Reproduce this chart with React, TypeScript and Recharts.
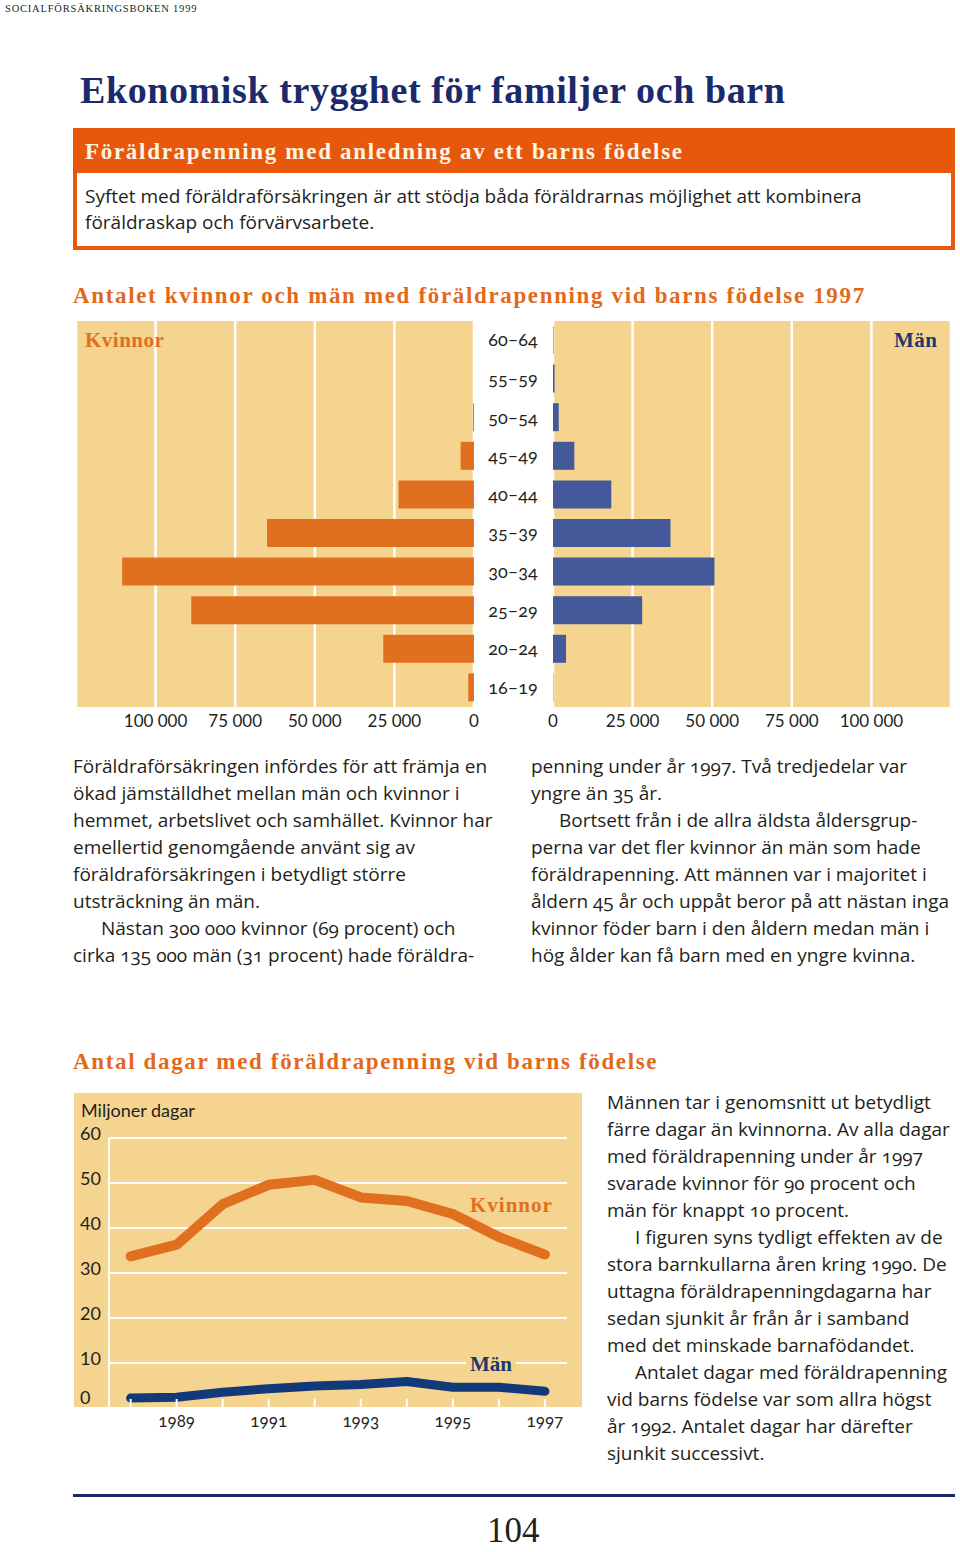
import { BarChart, Bar, XAxis, YAxis, CartesianGrid, LineChart, Line } from 'recharts'

// Antal kvinnor och män med föräldrapenning vid barns födelse 1997
const ageGroups = ['60–64', '55–59', '50–54', '45–49', '40–44', '35–39', '30–34', '25–29', '20–24', '16–19']
const womenByAge = [0, 0, 300, 4200, 23700, 65000, 110500, 88800, 28500, 1800]
const menByAge = [150, 500, 1800, 6700, 18300, 36900, 50700, 28000, 4100, 100]
const amountTicks = [0, 25000, 50000, 75000, 100000]

// Miljoner dagar med föräldrapenning
const years = [1988, 1989, 1990, 1991, 1992, 1993, 1994, 1995, 1996, 1997]
const womenDays = [33.7, 36.3, 45.3, 49.6, 50.7, 46.8, 46.0, 43.1, 38.0, 34.1]
const menDays = [2.2, 2.4, 3.5, 4.3, 4.9, 5.2, 5.9, 4.6, 4.6, 3.7]
const yearLabels = [1989, 1991, 1993, 1995, 1997]
const dayTicks = [0, 10, 20, 30, 40, 50, 60]

const pyramid = ageGroups.map((age, i) => ({ age, women: womenByAge[i], men: menByAge[i] }))
const days = years.map((year, i) => ({ year, women: womenDays[i], men: menDays[i] }))

const PANEL = '#F5D48F'
const ORANGE = '#E07020'
const BLUE = '#43599A'
const NAVY = '#12397A'
const TITLE_ORANGE = '#E2691B'
const TEXT = '#231f20'
const SANS = 'Lato, "Open Sans", sans-serif'
const BODY = '"Open Sans", Lato, sans-serif'
const SERIF = '"Liberation Serif", "DejaVu Serif", serif'

const fmt = (v: number) => String(v).replace(/\B(?=(\d{3})+(?!\d))/g, ' ')

const tickStyle = { fill: TEXT, fontSize: 17, fontFamily: SANS }

function AgeTick({ y, payload }: any) {
  return (
    <text x={39} y={y} dy={6} textAnchor="middle" fill={TEXT} fontSize={18} fontFamily={SANS}
      style={{ fontVariantNumeric: 'oldstyle-nums' }}>
      {payload.value}
    </text>
  )
}

function DayTick({ y, payload }: any) {
  return (
    <text x={6} y={payload.value === 0 ? y - 4 : y + 2} fill={TEXT} fontSize={18} fontFamily={SANS}>
      {payload.value}
    </text>
  )
}

function YearTick({ x, y, payload }: any) {
  return (
    <g>
      <line x1={x} x2={x} y1={y} y2={y - 9} stroke="#fff" strokeWidth={2} />
      {yearLabels.includes(payload.value) && (
        <text x={x} y={y + 19} textAnchor="middle" fill={TEXT} fontSize={17} fontFamily={SANS}
          style={{ fontVariantNumeric: 'oldstyle-nums' }}>
          {payload.value}
        </text>
      )}
    </g>
  )
}

const abs = (left: number, top: number, extra: any = {}) => ({ position: 'absolute' as const, left, top, ...extra })

const bodyText = { fontFamily: BODY, fontSize: 19, lineHeight: '27px', color: TEXT, whiteSpace: 'nowrap' as const, fontVariantNumeric: 'oldstyle-nums' }
const chartTitle = { fontFamily: SERIF, fontWeight: 700, fontSize: 23, letterSpacing: 1.65, color: TITLE_ORANGE, whiteSpace: 'nowrap' as const }

function Lines({ lines, indent = [] as number[] }: { lines: string[]; indent?: number[] }) {
  return (
    <>
      {lines.map((l, i) => (
        <div key={i} style={{ paddingLeft: indent.includes(i) ? 28 : 0 }}>{l}</div>
      ))}
    </>
  )
}

export default function App() {
  return (
    <div style={{ position: 'absolute', left: 0, top: 0, width: 960, height: 1552, background: '#fff' }}>
      <div style={abs(5, 3, { fontFamily: SERIF, fontSize: 10.5, letterSpacing: 0.8, color: TEXT })}>
        SOCIALFÖRSÄKRINGSBOKEN 1999
      </div>

      <div style={abs(80, 68, { fontFamily: SERIF, fontWeight: 700, fontSize: 38, letterSpacing: 0.6, color: '#1B2A6B', whiteSpace: 'nowrap' })}>
        Ekonomisk trygghet för familjer och barn
      </div>

      <div style={abs(73, 128, { width: 882, height: 45, background: '#E8580C' })} />
      <div style={abs(85, 139, { fontFamily: SERIF, fontWeight: 700, fontSize: 23, letterSpacing: 1.7, color: '#FFF4E2', whiteSpace: 'nowrap' })}>
        Föräldrapenning med anledning av ett barns födelse
      </div>
      <div style={abs(73, 173, { width: 874, height: 73, borderLeft: '4px solid #E8580C', borderRight: '4px solid #E8580C', borderBottom: '4px solid #E8580C' })} />
      <div style={abs(85, 183, { ...bodyText, lineHeight: '26px' })}>
        <Lines lines={['Syftet med föräldraförsäkringen är att stödja båda föräldrarnas möjlighet att kombinera', 'föräldraskap och förvärvsarbete.']} />
      </div>

      <div style={abs(73, 283, chartTitle)}>Antalet kvinnor och män med föräldrapenning vid barns födelse 1997</div>

      <div style={abs(76, 321)}>
        <BarChart layout="vertical" width={410} height={416} data={pyramid} margin={{ top: 0, right: 12, bottom: 0, left: 0 }}>
          <CartesianGrid horizontal={false} stroke="#fff" strokeWidth={2.5} fill={PANEL} />
          <XAxis type="number" domain={[0, 125000]} reversed ticks={amountTicks} interval={0} axisLine={false} tickLine={false}
            tick={tickStyle} tickFormatter={fmt} height={30} />
          <YAxis type="category" dataKey="age" hide />
          <Bar dataKey="women" fill={ORANGE} barSize={28} isAnimationActive={false} />
        </BarChart>
      </div>
      <div style={abs(474, 321)}>
        <BarChart layout="vertical" width={477} height={416} data={pyramid} margin={{ top: 0, right: 0, bottom: 0, left: 0 }}>
          <CartesianGrid horizontal={false} stroke="#fff" strokeWidth={2.5} fill={PANEL} />
          <XAxis type="number" domain={[0, 125000]} ticks={amountTicks} interval={0} axisLine={false} tickLine={false}
            tick={tickStyle} tickFormatter={fmt} height={30} />
          <YAxis type="category" dataKey="age" width={79} axisLine={false} tickLine={false} tick={<AgeTick />} />
          <Bar dataKey="men" fill={BLUE} barSize={28} isAnimationActive={false} />
        </BarChart>
      </div>
      <div style={abs(85, 328, { fontFamily: SERIF, fontWeight: 700, fontSize: 21, color: ORANGE, letterSpacing: 0.5 })}>Kvinnor</div>
      <div style={abs(894, 328, { fontFamily: SERIF, fontWeight: 700, fontSize: 21, color: '#1A3A6E', letterSpacing: 0.5 })}>Män</div>

      <div style={abs(73, 753, bodyText)}>
        <Lines indent={[6]} lines={[
          'Föräldraförsäkringen infördes för att främja en',
          'ökad jämställdhet mellan män och kvinnor i',
          'hemmet, arbetslivet och samhället. Kvinnor har',
          'emellertid genomgående använt sig av',
          'föräldraförsäkringen i betydligt större',
          'utsträckning än män.',
          'Nästan 300 000 kvinnor (69 procent) och',
          'cirka 135 000 män (31 procent) hade föräldra-',
        ]} />
      </div>
      <div style={abs(531, 753, bodyText)}>
        <Lines indent={[2]} lines={[
          'penning under år 1997. Två tredjedelar var',
          'yngre än 35 år.',
          'Bortsett från i de allra äldsta åldersgrup-',
          'perna var det fler kvinnor än män som hade',
          'föräldrapenning. Att männen var i majoritet i',
          'åldern 45 år och uppåt beror på att nästan inga',
          'kvinnor föder barn i den åldern medan män i',
          'hög ålder kan få barn med en yngre kvinna.',
        ]} />
      </div>

      <div style={abs(73, 1049, chartTitle)}>Antal dagar med föräldrapenning vid barns födelse</div>

      <div style={abs(74, 1093, { width: 508, height: 314, background: PANEL })} />
      <div style={abs(81, 1099, { fontFamily: SANS, fontSize: 18, color: TEXT })}>Miljoner dagar</div>
      <div style={abs(74, 1093)}>
        <LineChart width={508} height={345} data={days} margin={{ top: 45, right: 15, bottom: 0, left: 0 }}>
          <CartesianGrid vertical={false} stroke="#fff" strokeWidth={2} />
          <XAxis type="number" dataKey="year" domain={[1987.53, 1997.48]} allowDataOverflow ticks={years} interval={0}
            tickSize={0} tickMargin={0} axisLine={{ stroke: '#fff', strokeWidth: 2 }} tick={<YearTick />} height={30} />
          <YAxis type="number" domain={[0, 60]} ticks={dayTicks} interval={0} width={35} tickLine={false}
            axisLine={{ stroke: '#fff', strokeWidth: 2 }} tick={<DayTick />} />
          <Line dataKey="women" stroke={ORANGE} strokeWidth={10} strokeLinecap="round" strokeLinejoin="round" dot={false} isAnimationActive={false} />
          <Line dataKey="men" stroke={NAVY} strokeWidth={9} strokeLinecap="round" strokeLinejoin="round" dot={false} isAnimationActive={false} />
        </LineChart>
      </div>
      <div style={abs(470, 1193, { fontFamily: SERIF, fontWeight: 700, fontSize: 21, color: ORANGE, letterSpacing: 1 })}>Kvinnor</div>
      <div style={abs(466, 1352, { fontFamily: SERIF, fontWeight: 700, fontSize: 21, color: '#1A3A6E', background: PANEL, padding: '0 4px' })}>Män</div>

      <div style={abs(607, 1089, bodyText)}>
        <Lines indent={[5, 10]} lines={[
          'Männen tar i genomsnitt ut betydligt',
          'färre dagar än kvinnorna. Av alla dagar',
          'med föräldrapenning under år 1997',
          'svarade kvinnor för 90 procent och',
          'män för knappt 10 procent.',
          'I figuren syns tydligt effekten av de',
          'stora barnkullarna åren kring 1990. De',
          'uttagna föräldrapenningdagarna har',
          'sedan sjunkit år från år i samband',
          'med det minskade barnafödandet.',
          'Antalet dagar med föräldrapenning',
          'vid barns födelse var som allra högst',
          'år 1992. Antalet dagar har därefter',
          'sjunkit successivt.',
        ]} />
      </div>

      <div style={abs(73, 1494, { width: 882, height: 3, background: '#1B2A6B' })} />
      <div style={abs(487, 1511, { fontFamily: SERIF, fontSize: 35, color: TEXT })}>104</div>
    </div>
  )
}
